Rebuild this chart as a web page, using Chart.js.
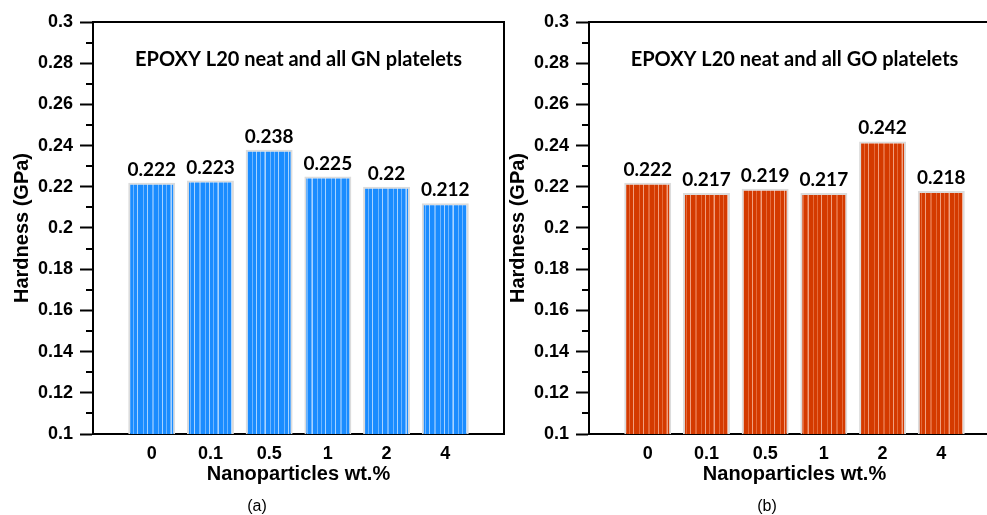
<!DOCTYPE html>
<html><head><meta charset="utf-8">
<script src="https://cdn.jsdelivr.net/npm/chart.js@4.4.0/dist/chart.umd.min.js"></script>
<style>
html,body{margin:0;padding:0;width:987px;height:515px;overflow:hidden;background:#fff;}
canvas{position:absolute;top:0;}
#c1{left:0}
#c2{left:496px}
.cap{position:absolute;top:497px;height:20px;line-height:20px;width:60px;text-align:center;font:16px "Liberation Sans",Arial,sans-serif;color:#000}
</style></head><body>
<canvas id="c1" width="520" height="515"></canvas>
<canvas id="c2" width="520" height="515"></canvas>
<div class="cap" style="left:227px">(a)</div>
<div class="cap" style="left:737px">(b)</div>
<script>
// ---- data ----
const categories = ['0', '0.1', '0.5', '1', '2', '4'];
const gnHardness = [0.222, 0.223, 0.238, 0.225, 0.22, 0.212];
const goHardness = [0.222, 0.217, 0.219, 0.217, 0.242, 0.218];
const yTickValues = [0.1, 0.12, 0.14, 0.16, 0.18, 0.2, 0.22, 0.24, 0.26, 0.28, 0.3];
const yTickLabels = ['0.1', '0.12', '0.14', '0.16', '0.18', '0.2', '0.22', '0.24', '0.26', '0.28', '0.3'];
const yMinorTicks = [0.11, 0.13, 0.15, 0.17, 0.19, 0.21, 0.23, 0.25, 0.27, 0.29];
const panelTitles = ['EPOXY L20 neat and all GN platelets', 'EPOXY L20 neat and all GO platelets'];
const yAxisTitle = 'Hardness (GPa)';
const xAxisTitle = 'Nanoparticles wt.%';

Chart.defaults.color = '#000';
const AX_FONT = '"Liberation Sans", Arial, sans-serif';
const LBL_FONT = 'Lato, "Open Sans", sans-serif';

function stripePattern(base, light, lighter) {
  const c = document.createElement('canvas');
  c.width = 47; c.height = 8;
  const g = c.getContext('2d');
  g.fillStyle = base; g.fillRect(0, 0, 47, 8);
  const stripes = [[2, light], [6, lighter], [11, light], [12, light], [17, light], [21, lighter],
                   [25, light], [29, light], [30, lighter], [35, light], [39, light], [43, lighter]];
  stripes.forEach(([x, col]) => { g.fillStyle = col; g.fillRect(x, 0, 1, 8); });
  return g.createPattern(c, 'repeat');
}

const decor = {
  id: 'decor',
  beforeDatasetsDraw(chart) {
    const {ctx, chartArea: a, scales: {y}} = chart;
    ctx.save();
    ctx.strokeStyle = '#000';
    ctx.lineWidth = 2;
    ctx.beginPath();
    ctx.moveTo(a.left, a.top); ctx.lineTo(a.right, a.top); ctx.lineTo(a.right, a.bottom);
    ctx.stroke();
    ctx.beginPath();
    yMinorTicks.forEach(v => {
      const py = Math.round(y.getPixelForValue(v));
      ctx.moveTo(a.left - 7, py); ctx.lineTo(a.left, py);
    });
    ctx.stroke();
    ctx.font = 'bold 20px ' + LBL_FONT;
    ctx.textAlign = 'center'; ctx.textBaseline = 'middle';
    ctx.fillStyle = '#000';
    ctx.fillText(chart.options.plugins.decor.title, (a.left + a.right) / 2, a.top + 38);
    ctx.restore();
  },
  afterDatasetsDraw(chart) {
    const {ctx} = chart;
    const meta = chart.getDatasetMeta(0);
    const vals = chart.data.datasets[0].data;
    ctx.save();
    ctx.font = 'bold 19px ' + LBL_FONT;
    ctx.textAlign = 'center'; ctx.textBaseline = 'alphabetic';
    ctx.fillStyle = '#000';
    meta.data.forEach((bar, i) => {
      ctx.fillText(String(vals[i].y), bar.x, bar.y - 7);
    });
    ctx.restore();
  }
};

function makeChart(id, values, title, colors) {
  return new Chart(document.getElementById(id), {
    type: 'bar',
    data: {
      datasets: [{
        data: values.map((v, i) => ({x: i, y: v})),
        backgroundColor: stripePattern(colors[0], colors[1], colors[2]),
        borderColor: '#dcdcdc',
        borderWidth: 2,
        borderSkipped: false,
        barPercentage: 0.8,
        categoryPercentage: 1
      }]
    },
    plugins: [decor],
    options: {
      responsive: false,
      animation: false,
      devicePixelRatio: 1,
      layout: {padding: {top: 22, right: 16, left: 0, bottom: 0}},
      plugins: {legend: {display: false}, tooltip: {enabled: false}, decor: {title}},
      scales: {
        x: {
          type: 'linear', min: -1, max: 6, offset: false,
          afterBuildTicks: s => { s.ticks = categories.map((c, i) => ({value: i})); },
          afterFit: s => { s.height = 81; },
          grid: {display: false, drawTicks: false, offset: false},
          border: {display: true, color: '#000', width: 2},
          ticks: {autoSkip: false, maxRotation: 0, padding: 9,
                  font: {family: AX_FONT, size: 18, weight: 'bold'},
                  callback: v => categories[v]},
          title: {display: true, text: xAxisTitle, padding: {top: 0, bottom: 29},
                  font: {family: AX_FONT, size: 20, weight: 'bold'}}
        },
        y: {
          min: 0.1, max: 0.3,
          afterBuildTicks: s => { s.ticks = yTickValues.map(v => ({value: v})); },
          afterFit: s => { s.width = 93; },
          grid: {drawOnChartArea: false, drawTicks: true, tickLength: 13, tickWidth: 2, tickColor: '#000'},
          border: {display: true, color: '#000', width: 2},
          ticks: {padding: 7, font: {family: AX_FONT, size: 18, weight: 'bold'},
                  callback: (v, i) => yTickLabels[i]},
          title: {display: true, text: yAxisTitle, padding: {top: 10, bottom: 0},
                  font: {family: AX_FONT, size: 20, weight: 'bold'}}
        }
      }
    }
  });
}

makeChart('c1', gnHardness, panelTitles[0], ['#1a8cff', '#6fb6ff', '#a8d3ff']);
makeChart('c2', goHardness, panelTitles[1], ['#d43a00', '#e46a3a', '#f0a080']);
</script>
</body></html>
